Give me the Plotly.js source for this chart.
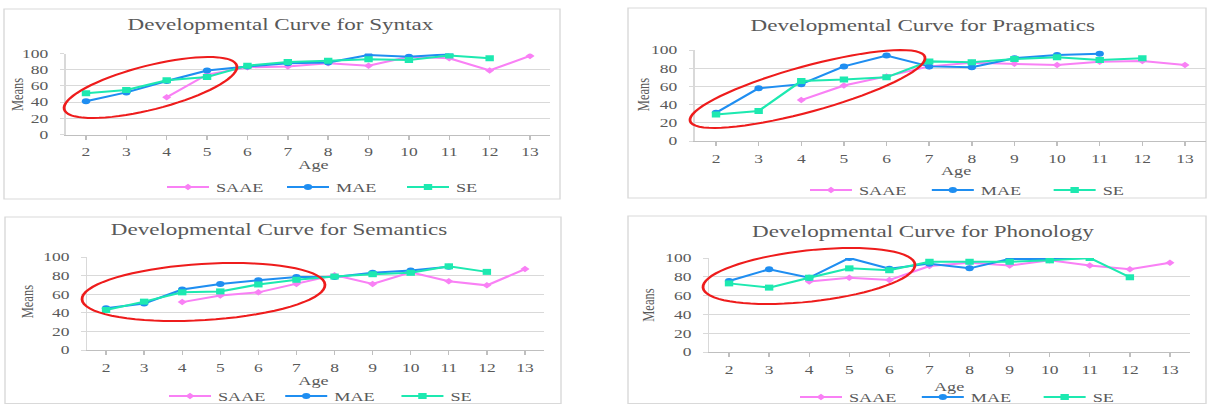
<!DOCTYPE html>
<html><head><meta charset="utf-8">
<script src="https://cdn.plot.ly/plotly-3.0.1.min.js"></script>
<style>
html,body{margin:0;padding:0;background:#fff;overflow:hidden;}
#wrap{width:1207px;height:404px;overflow:hidden;}
#chart{width:862px;height:404px;transform:scaleX(1.40023);transform-origin:0 0;}
</style></head><body><div id="wrap"><div id="chart"></div></div>
<script>
// ---- data ----
const ages = [2,3,4,5,6,7,8,9,10,11,12,13];
const ageLabels = ['2','3','4','5','6','7','8','9','10','11','12','13'];
const seriesNames = ['SAAE','MAE','SE'];
const panelTitles = ['Developmental Curve for Syntax','Developmental Curve for Pragmatics','Developmental Curve for Semantics','Developmental Curve for Phonology'];
const xTitle = 'Age';
const yTitle = 'Means';
const yTicks = [0,20,40,60,80,100];

const syntaxSAAE = [null,null,46,74,83,84,88,85,96,94,79,97];
const syntaxMAE  = [41,52,66,79,84,88,89,98,96,99,null,null];
const syntaxSE   = [51,55,67,71,85,89.5,91,93,92,97.5,94,null];

const pragmaticsSAAE = [null,null,45,61,71,82,86,85,83.5,87,88,83.5];
const pragmaticsMAE  = [31,58,62.5,82,94,82,81,91,94.5,96,null,null];
const pragmaticsSE   = [29,33,66,67.5,70,87.5,86.5,90,92,89,91,null];

const semanticsSAAE = [null,null,51.5,58.5,62,71,80.5,71,83.5,74,69.5,87];
const semanticsMAE  = [45,50,65,71,75,78.5,78.5,83,85.5,89.5,null,null];
const semanticsSE   = [43,52,62,63,70.5,75.5,79,81.5,83,90,84,null];

const phonologySAAE = [null,null,75,79,76.5,91.5,95,92,97.5,92,88,95];
const phonologyMAE  = [75.5,88,79,100,88.5,94,89,99,99,100,null,null];
const phonologySE   = [73,68.5,79,89,87,96,96,96,97.5,100,79.5,null];

// ---- styling / layout ----
const colors = ['#f980f5','#1f8ef1','#1de9b0'];
const symbols = ['diamond','circle','square'];
const msizes = [5,6,6];
const W = 1207, H = 404;            // reference pixel space (paper fractions are stretch-independent)
const px = x => x / W;
const py = y => 1 - y / H;
const FONT = 'Liberation Serif, Times New Roman, serif';
const TXT = '#595959';

const panels = [
  {data:[syntaxSAAE,syntaxMAE,syntaxSE], xd:[65.8,550.2], yd:[134.5,53.5], frame:[4,9,560,199],
   titleAt:[281,24], ageAt:[314,165], meansAt:[17,95], legendAt:[160,187], entry:40.7,
   ell:{cx:150.5,cy:87.5,a:89,b:22,deg:14.2}},
  {data:[pragmaticsSAAE,pragmaticsMAE,pragmaticsSE], xd:[694.7,1206.3], yd:[141,50], frame:[628,8,1206,198],
   titleAt:[923,25], ageAt:[957,170.5], meansAt:[643,95], legendAt:[803,190], entry:42,
   ell:{cx:807.5,cy:89,a:121.7,b:22.8,deg:15.3}},
  {data:[semanticsSAAE,semanticsMAE,semanticsSE], xd:[87,544], yd:[350,257], frame:[5,217,561,403.5],
   titleAt:[279,230], ageAt:[314,380], meansAt:[27,302], legendAt:[162,396], entry:38,
   ell:{cx:203.5,cy:292,a:121.7,b:28.1,deg:3.5}},
  {data:[phonologySAAE,phonologyMAE,phonologySE], xd:[709,1190], yd:[352,258], frame:[628,216,1206,403.5],
   titleAt:[924,232], ageAt:[949,386], meansAt:[648,305], legendAt:[793,397], entry:42,
   ell:{cx:809,cy:276,a:106.6,b:25.6,deg:6.3}}
];

function ellipsePath(e){
  const th = e.deg*Math.PI/180, n = 72;
  let d = '';
  for(let i=0;i<=n;i++){
    const t = 2*Math.PI*i/n;
    const x = e.cx + e.a*Math.cos(t)*Math.cos(th) - e.b*Math.sin(t)*Math.sin(th);
    const y = e.cy - (e.a*Math.cos(t)*Math.sin(th) + e.b*Math.sin(t)*Math.cos(th));
    d += (i===0?'M':'L') + px(x).toFixed(5) + ',' + py(y).toFixed(5);
  }
  return d + 'Z';
}

const traces = [];
const layout = {
  width:862, height:404, margin:{l:0,r:0,t:0,b:0,pad:0,autoexpand:false},
  paper_bgcolor:'#fff', plot_bgcolor:'rgba(0,0,0,0)',
  hovermode:false, annotations:[], shapes:[],
  font:{family:FONT, color:TXT}
};

panels.forEach((p,i)=>{
  const k = i===0 ? '' : String(i+1);
  const lg = 'legend' + k;
  p.data.forEach((vals,s)=>{
    traces.push({
      type:'scatter', mode:'lines+markers', x:ages, y:vals, name:seriesNames[s],
      xaxis:'x'+k, yaxis:'y'+k, legend:lg, connectgaps:false,
      line:{color:colors[s], width:2},
      marker:{symbol:symbols[s], size:msizes[s], color:colors[s]}
    });
  });
  layout['xaxis'+k] = {
    domain:[px(p.xd[0]), px(p.xd[1])], anchor:'y'+k, range:[1.5,13.5],
    tickvals:ages, ticktext:ageLabels, ticks:'outside', ticklen:4, tickcolor:'#bfbfbf',
    showline:true, linecolor:'#bfbfbf', showgrid:false, zeroline:false, automargin:false,
    tickfont:{family:FONT, size:12.5, color:TXT}, ticklabelstandoff:2, fixedrange:true
  };
  layout['yaxis'+k] = {
    domain:[py(p.yd[0]), py(p.yd[1])], anchor:'x'+k, range:[0,100],
    tickvals:yTicks, ticks:'outside', ticklen:3, tickcolor:'#d9d9d9',
    showline:true, linecolor:'#d9d9d9', showgrid:true, gridcolor:'#d9d9d9', zeroline:false, automargin:false,
    tickfont:{family:FONT, size:12.5, color:TXT}, ticklabelstandoff:6, fixedrange:true
  };
  layout[lg] = {
    orientation:'h', x:px(p.legendAt[0]), y:py(p.legendAt[1]), xanchor:'left', yanchor:'middle',
    xref:'paper', yref:'paper', bgcolor:'rgba(0,0,0,0)', borderwidth:0,
    font:{family:FONT, size:13, color:TXT}, entrywidth:p.entry, entrywidthmode:'pixels',
    itemclick:false, itemdoubleclick:false
  };
  layout.shapes.push({type:'rect', xref:'paper', yref:'paper', layer:'below',
    x0:px(p.frame[0]), x1:px(p.frame[2]), y0:py(p.frame[3]), y1:py(p.frame[1]),
    line:{color:'#d9d9d9', width:1}, fillcolor:'rgba(0,0,0,0)'});
  layout.shapes.push({type:'path', xref:'paper', yref:'paper', layer:'above',
    path:ellipsePath(p.ell), line:{color:'#ee1c1c', width:2}});
  layout.annotations.push({xref:'paper', yref:'paper', x:px(p.titleAt[0]), y:py(p.titleAt[1]),
    xanchor:'center', yanchor:'middle', showarrow:false, text:panelTitles[i],
    font:{family:FONT, size:16.5, color:TXT}});
  layout.annotations.push({xref:'paper', yref:'paper', x:px(p.ageAt[0]), y:py(p.ageAt[1]),
    xanchor:'center', yanchor:'middle', showarrow:false, text:xTitle,
    font:{family:FONT, size:13, color:TXT}});
  layout.annotations.push({xref:'paper', yref:'paper', x:px(p.meansAt[0]), y:py(p.meansAt[1]),
    xanchor:'center', yanchor:'middle', showarrow:false, text:yTitle, textangle:-90,
    font:{family:FONT, size:12.5, color:TXT}});
});

Plotly.newPlot('chart', traces, layout, {displayModeBar:false, staticPlot:true});
</script></body></html>
